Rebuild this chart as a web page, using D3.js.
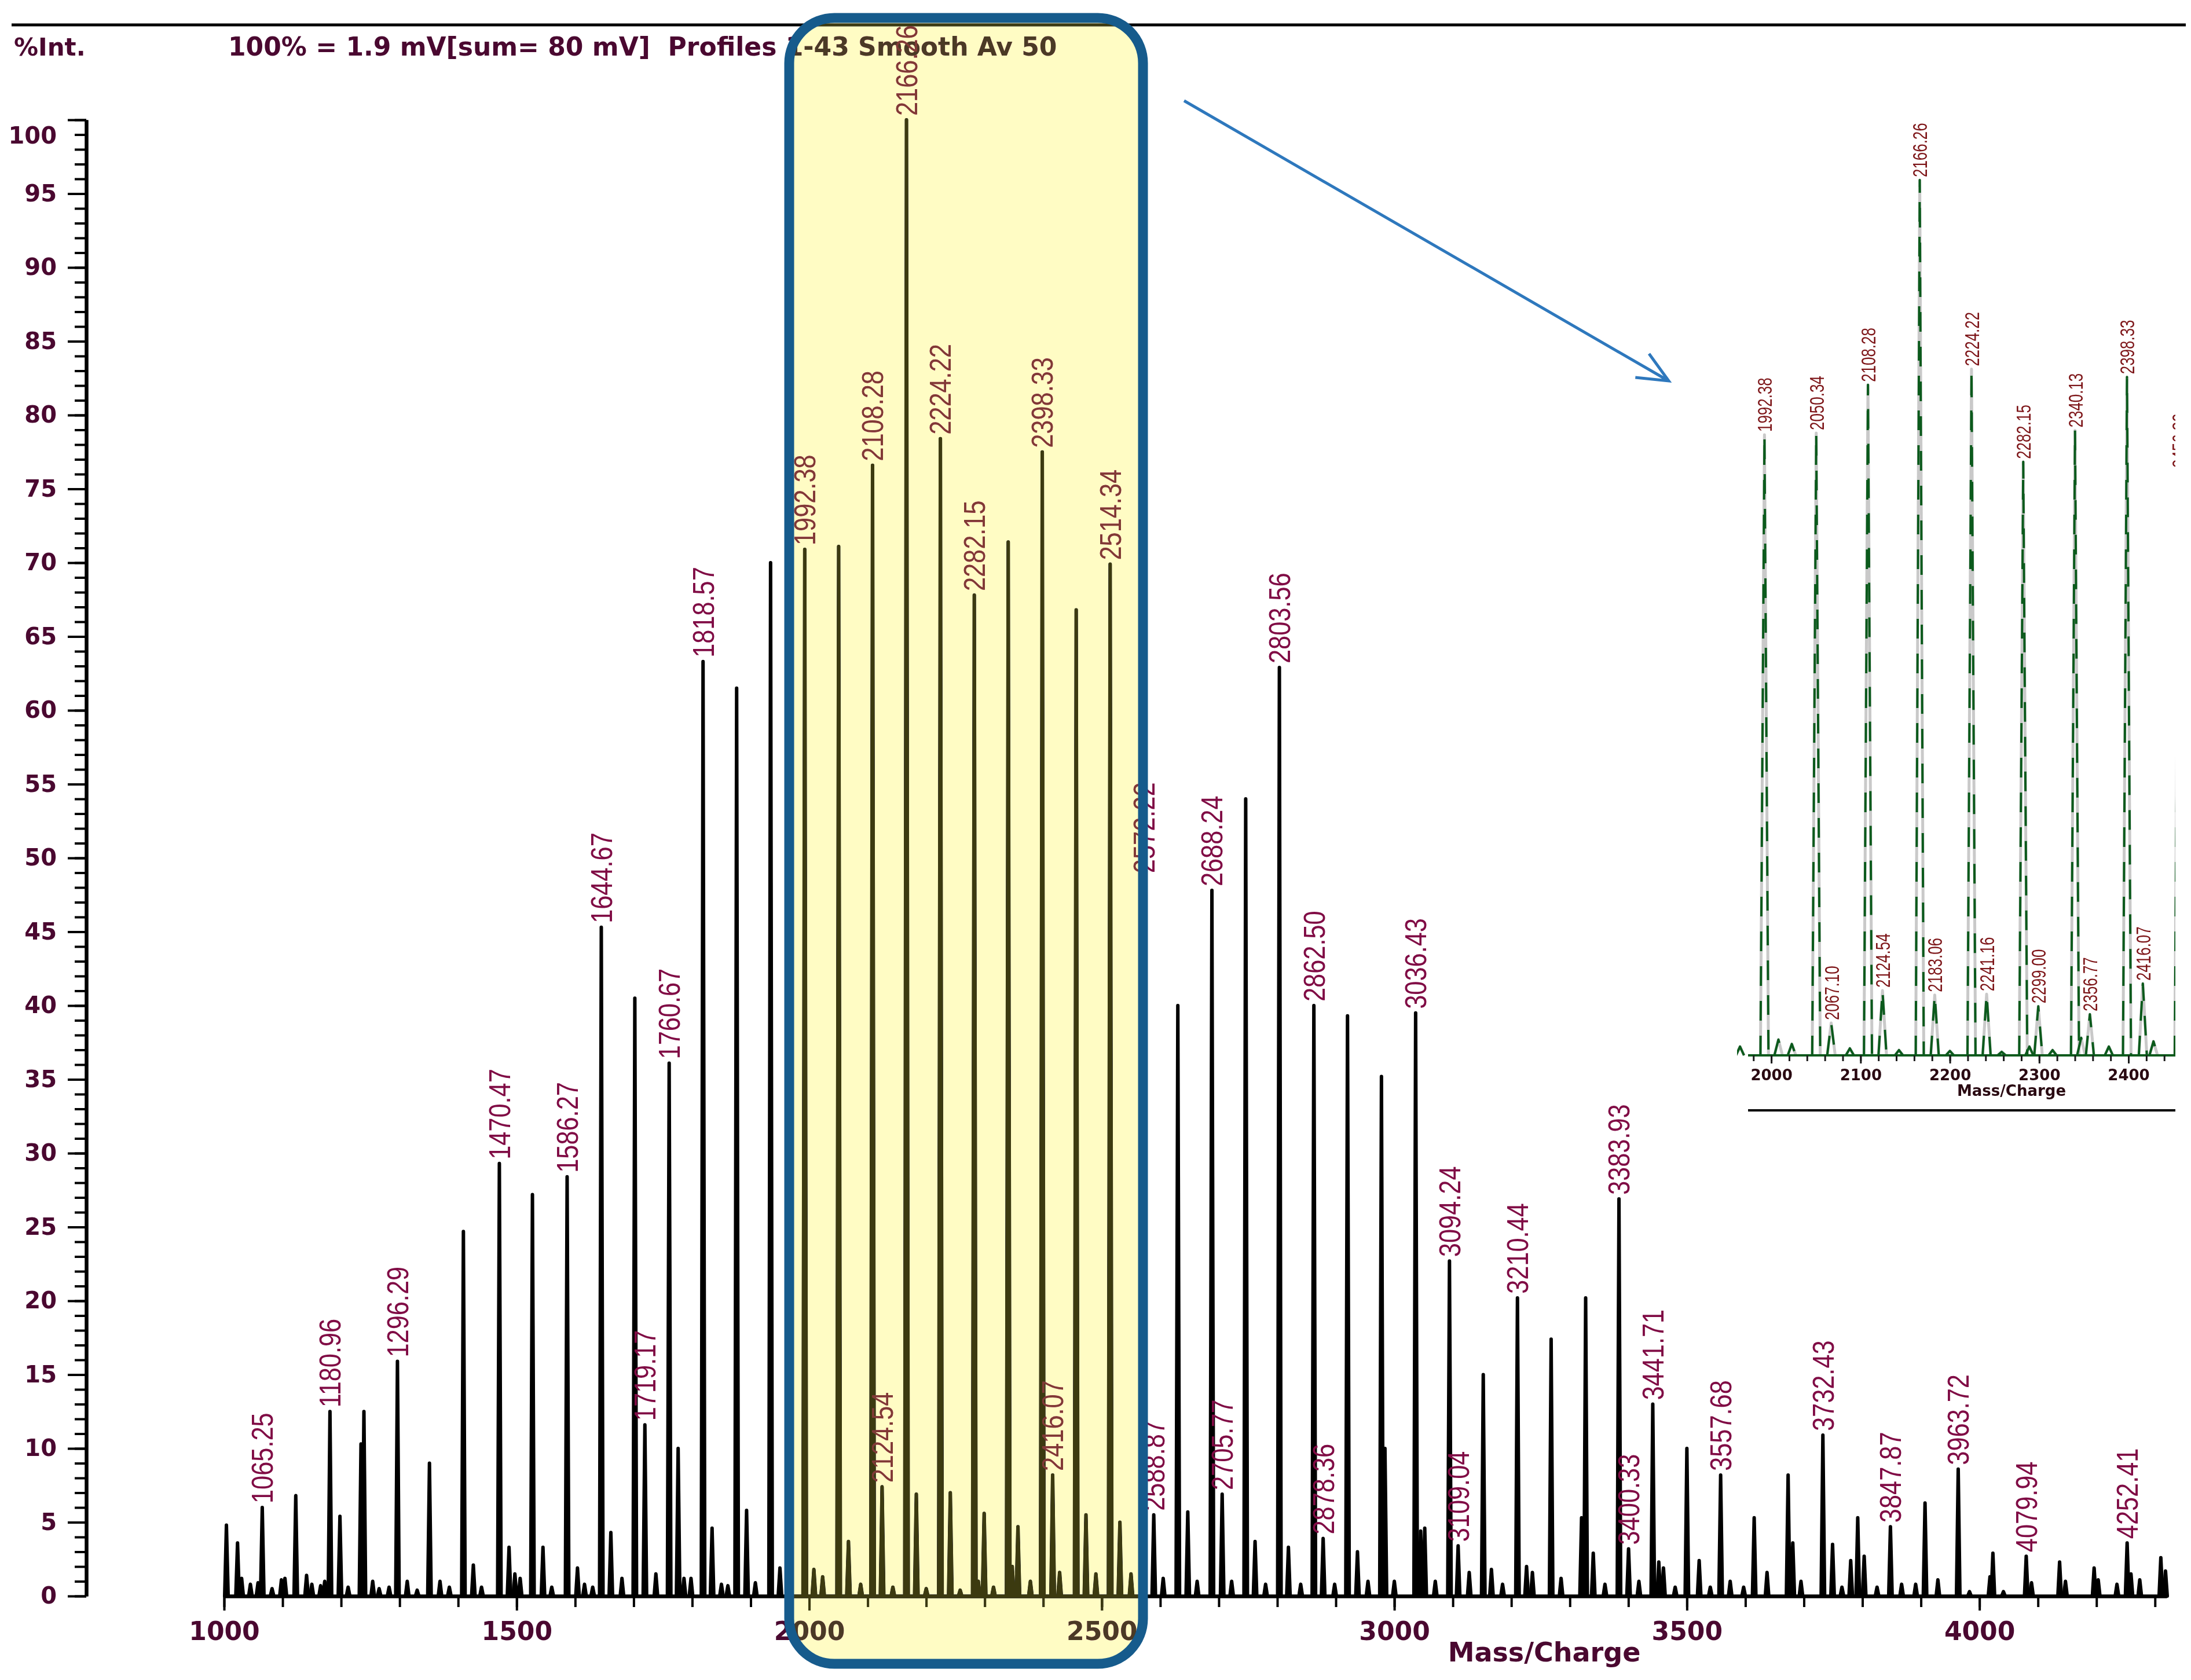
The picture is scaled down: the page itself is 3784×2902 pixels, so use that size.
<!DOCTYPE html>
<html>
<head>
<meta charset="utf-8">
<script src="https://cdnjs.cloudflare.com/ajax/libs/d3/7.8.5/d3.min.js"></script>
<style>
  body { margin: 0; background: #fff; }
  svg { display: block; }
</style>
</head>
<body>
<div id="chart"></div>
<script>
// 1: DATA
const peakMz = [
  1004, 1023, 1030, 1045, 1058, 1065.25, 1082, 1098, 1104, 1122.5, 1141, 1150, 1165, 1172, 1180.96, 1198, 1212,
  1234, 1239, 1254, 1265, 1282, 1296.29, 1313, 1330, 1351, 1369, 1385, 1409, 1426, 1440, 1470.47, 1487, 1497,
  1506, 1527, 1545, 1560, 1586.27, 1604, 1616, 1630, 1644.67, 1661, 1680, 1702, 1719.17, 1738, 1760.67, 1776,
  1786, 1798, 1818.57, 1834, 1850, 1861, 1876, 1893, 1908, 1934, 1950, 1965, 1992.38, 2008, 2023, 2050.34,
  2067.10, 2088, 2108.28, 2124.54, 2143, 2166.26, 2183.06, 2200, 2224.22, 2241.16, 2258, 2282.15, 2289, 2299.00,
  2315, 2340.13, 2347, 2356.77, 2378, 2398.33, 2416.07, 2428, 2456.30, 2473, 2490, 2514.34, 2531, 2550,
  2572.22, 2588.87, 2605, 2630, 2647, 2663, 2688.24, 2705.77, 2722, 2746, 2762, 2780, 2803.56, 2819, 2840,
  2862.50, 2878.36, 2898, 2920, 2937, 2955, 2978, 2984, 3000, 3036.43, 3045, 3052, 3070, 3094.24, 3109.04,
  3128, 3152, 3166, 3185, 3210.44, 3226, 3236, 3268, 3285, 3320, 3327, 3340, 3360, 3383.93, 3400.33, 3418,
  3441.71, 3452, 3460, 3480, 3500, 3521, 3540, 3557.68, 3574, 3597, 3615, 3637, 3673, 3681, 3695, 3732.43,
  3749, 3765, 3780, 3792, 3803, 3825, 3847.87, 3867, 3891, 3907, 3929, 3963.72, 3983, 4018, 4023, 4041,
  4079.94, 4089, 4137, 4147, 4196, 4203, 4235, 4252.41, 4259, 4274, 4310, 4318
];
const peakInt = [
  4.8, 3.6, 1.2, 0.8, 0.9, 6.0, 0.5, 1.1, 1.2, 6.8, 1.4, 0.8, 0.7, 1.0, 12.5, 5.4, 0.6,
  10.3, 12.5, 1.0, 0.5, 0.6, 15.9, 1.0, 0.4, 9.0, 1.0, 0.6, 24.7, 2.1, 0.6, 29.3, 3.3, 1.5,
  1.2, 27.2, 3.3, 0.6, 28.4, 1.9, 0.8, 0.6, 45.3, 4.3, 1.2, 40.5, 11.6, 1.5, 36.1, 10.0,
  1.2, 1.2, 63.3, 4.6, 0.8, 0.7, 61.5, 5.8, 0.9, 70.0, 1.9, 1.0, 70.9, 1.8, 1.3, 71.1,
  3.7, 0.8, 76.6, 7.4, 0.6, 100, 6.9, 0.5, 78.4, 7.0, 0.4, 67.8, 1.0, 5.6,
  0.6, 71.4, 2.0, 4.7, 1.0, 77.5, 8.2, 1.6, 66.8, 5.5, 1.5, 69.9, 5.0, 1.5,
  48.7, 5.5, 1.2, 40.0, 5.7, 1.0, 47.8, 6.9, 1.0, 54.0, 3.7, 0.8, 62.9, 3.3, 0.8,
  40.0, 3.9, 0.8, 39.3, 3.0, 1.0, 35.2, 10.0, 1.0, 39.5, 4.4, 4.6, 1.0, 22.7, 3.4,
  1.6, 15.0, 1.8, 0.8, 20.2, 2.0, 1.6, 17.4, 1.2, 5.3, 20.2, 2.9, 0.8, 26.9, 3.2, 1.0,
  13.0, 2.3, 1.9, 0.6, 10.0, 2.4, 0.6, 8.2, 1.0, 0.6, 5.3, 1.6, 8.2, 3.6, 1.0, 10.9,
  3.5, 0.6, 2.4, 5.3, 2.7, 0.6, 4.7, 0.8, 0.8, 6.3, 1.1, 8.6, 0.3, 1.3, 2.9, 0.3,
  2.7, 0.9, 2.3, 1.0, 1.9, 1.1, 0.8, 3.6, 1.5, 1.1, 2.6, 1.7
];
const mainLabels = [
  "1065.25", "1180.96", "1296.29", "1470.47", "1586.27", "1644.67", "1719.17", "1760.67", "1818.57",
  "1992.38", "2108.28", "2124.54", "2166.26", "2224.22", "2282.15", "2398.33", "2416.07", "2514.34",
  "2572.22", "2588.87", "2688.24", "2705.77", "2803.56", "2862.50", "2878.36", "3036.43", "3094.24",
  "3109.04", "3210.44", "3383.93", "3400.33", "3441.71", "3557.68", "3732.43", "3847.87", "3963.72",
  "4079.94", "4252.41"
];
const insetLabels = [
  "1992.38", "2050.34", "2067.10", "2108.28", "2124.54", "2166.26", "2183.06", "2224.22", "2241.16",
  "2282.15", "2299.00", "2340.13", "2356.77", "2398.33", "2416.07", "2456.30"
];
const yTicks = d3.range(0, 101, 5);
const yMinor = d3.range(0, 101, 1);
const xTicks = [1000, 1500, 2000, 2500, 3000, 3500, 4000];
const xMinor = d3.range(1000, 4301, 100);
const insetTicks = [2000, 2100, 2200, 2300, 2400];
const insetMinor = d3.range(1980, 2451, 20);
const headerLeft = "%Int.";
const headerText = "100% = 1.9 mV[sum= 80 mV]  Profiles 1-43 Smooth Av 50";

// 2: SVG + SCALES
const W = 3784, H = 2902;
const svg = d3.select("#chart").append("svg")
    .attr("width", W)
    .attr("height", H);

const x = d3.scaleLinear().domain([1000, 4320]).range([387, 3742]);
const y = d3.scaleLinear().domain([0, 100]).range([2757, 207]);

const axisColor = "#4a0830";
const labelColor = "#800c45";

// header
svg.append("line")
    .attr("x1", 20).attr("x2", 3775).attr("y1", 43).attr("y2", 43)
    .attr("stroke", "#000").attr("stroke-width", 5);
svg.append("text").attr("x", 24).attr("y", 96).text(headerLeft)
    .attr("font-family", "DejaVu Sans").attr("font-weight", "bold").attr("font-size", 42).attr("fill", axisColor);
svg.append("text").attr("x", 394).attr("y", 96).text(headerText)
    .attr("font-family", "DejaVu Sans").attr("font-weight", "bold").attr("font-size", 44).attr("fill", axisColor)
    .attr("xml:space", "preserve");

// 3: AXES
const yAxisX = 149;
const gy = svg.append("g").attr("transform", `translate(${yAxisX},0)`);
gy.append("g").call(d3.axisLeft(y).tickValues(yMinor).tickSize(20).tickSizeOuter(0).tickFormat(""));
gy.append("g").call(d3.axisLeft(y).tickValues(yTicks).tickSize(32).tickSizeOuter(0).tickPadding(19));
gy.selectAll("line").attr("stroke", "#000").attr("stroke-width", 4);
gy.selectAll(".domain").attr("stroke", "#000").attr("stroke-width", 6);
gy.selectAll("text")
    .attr("font-family", "DejaVu Sans").attr("font-weight", "bold").attr("font-size", 40).attr("fill", axisColor)
    .attr("dy", d => d === 100 ? "1.0em" : "0.32em");

const gx = svg.append("g").attr("transform", `translate(0,${y(0)})`);
gx.append("g").call(d3.axisBottom(x).tickValues(xMinor).tickSize(19).tickSizeOuter(0).tickFormat(""));
gx.append("g").call(d3.axisBottom(x).tickValues(xTicks).tickSize(25).tickSizeOuter(0).tickPadding(20).tickFormat(d3.format("d")));
gx.selectAll("line").attr("stroke", "#000").attr("stroke-width", 4);
gx.selectAll(".domain").attr("stroke", "#000").attr("stroke-width", 6);
gx.selectAll("text")
    .attr("font-family", "DejaVu Sans").attr("font-weight", "bold").attr("font-size", 44).attr("fill", axisColor);

svg.append("text").attr("x", 2667).attr("y", 2870).attr("text-anchor", "middle").text("Mass/Charge")
    .attr("font-family", "DejaVu Sans").attr("font-weight", "bold").attr("font-size", 46).attr("fill", axisColor);

// 4: PEAKS
const peaks = peakMz.map((mz, i) => ({ mz, v: peakInt[i] }));

function peakPath(d, xs, ys, hw, close) {
    return `M${xs(d.mz - hw)},${ys(0)}L${xs(d.mz)},${ys(d.v)}L${xs(d.mz + hw)},${ys(0)}` + (close ? "Z" : "");
}

svg.append("g").selectAll("path").data(peaks).join("path")
    .attr("d", d => peakPath(d, x, y, 3, true))
    .attr("fill", "#000").attr("stroke", "#000").attr("stroke-width", 6)
    .attr("stroke-linejoin", "round");

const mainLab = mainLabels.map(s => ({ s, p: peaks.find(p => p.mz === +s) })).filter(d => d.p);
svg.append("g").selectAll("text").data(mainLab).join("text")
    .attr("transform", d => `translate(${x(d.p.mz)},${y(d.p.v) - 7}) rotate(-90) scale(0.85,1)`)
    .attr("dy", "0.36em")
    .attr("font-family", "Liberation Sans, Arial, sans-serif")
    .attr("font-size", 51)
    .attr("fill", labelColor)
    .text(d => d.s);

// 5: INSET (zoom of 1975-2452)
const ix = d3.scaleLinear().domain([1974, 2452.5]).range([3019, 3757]);
const iy = d3.scaleLinear().domain([0, 100]).range([1823, 311]);
const inset = svg.append("g");
inset.append("clipPath").attr("id", "insetClip")
    .append("rect").attr("x", 3000).attr("y", 0).attr("width", 757).attr("height", 1830);

const insetPeaks = peaks.filter(p => p.mz > 1960 && p.mz < 2470);
const ip = inset.append("g").attr("clip-path", "url(#insetClip)");
ip.selectAll("path.bg").data(insetPeaks).join("path").attr("class", "bg")
    .attr("d", d => peakPath(d, ix, iy, 4.5, false))
    .attr("fill", "none").attr("stroke", "#c9c9c9").attr("stroke-width", 5).attr("stroke-linejoin", "round");
ip.selectAll("path.fg").data(insetPeaks).join("path").attr("class", "fg")
    .attr("d", d => peakPath(d, ix, iy, 4.5, false))
    .attr("fill", "none").attr("stroke", "#0b5a1c").attr("stroke-width", 4)
    .attr("stroke-dasharray", "34,26").attr("stroke-linejoin", "round");

const insetLab = insetLabels.map(s => ({ s, p: peaks.find(p => p.mz === +s) })).filter(d => d.p);
ip.selectAll("text").data(insetLab).join("text")
    .attr("transform", d => `translate(${ix(d.p.mz)},${iy(d.p.v) - 5}) rotate(-90) scale(0.72,1)`)
    .attr("dy", "0.36em")
    .attr("font-family", "Liberation Sans, Arial, sans-serif")
    .attr("font-size", 36)
    .attr("fill", "#7d1518")
    .text(d => d.s);

inset.append("line")
    .attr("x1", ix.range()[0]).attr("x2", ix.range()[1]).attr("y1", iy(0)).attr("y2", iy(0))
    .attr("stroke", "#0b5a1c").attr("stroke-width", 4);

const gi = inset.append("g").attr("transform", `translate(0,${iy(0)})`);
gi.append("g").call(d3.axisBottom(ix).tickValues(insetMinor).tickSize(10).tickSizeOuter(0).tickFormat(""));
gi.append("g").call(d3.axisBottom(ix).tickValues(insetTicks).tickSize(14).tickSizeOuter(0).tickPadding(11).tickFormat(d3.format("d")));
gi.selectAll(".domain").remove();
gi.selectAll("line").attr("stroke", "#1a1a1a").attr("stroke-width", 3);
gi.selectAll("text")
    .attr("font-family", "DejaVu Sans").attr("font-weight", "bold").attr("font-size", 26).attr("fill", "#2a0a12");
inset.append("text").attr("x", 3474).attr("y", 1893).attr("text-anchor", "middle").text("Mass/Charge")
    .attr("font-family", "DejaVu Sans").attr("font-weight", "bold").attr("font-size", 26).attr("fill", "#2a0a12");
inset.append("line")
    .attr("x1", 3019).attr("x2", 3757).attr("y1", 1918).attr("y2", 1918)
    .attr("stroke", "#000").attr("stroke-width", 4);

// 6: HIGHLIGHT BOX + ARROW
const box = { x: 1363, y: 31, w: 611, h: 2843, r: 78 };
svg.append("rect")
    .attr("x", box.x).attr("y", box.y).attr("width", box.w).attr("height", box.h)
    .attr("rx", box.r).attr("fill", "#fffcc4").style("mix-blend-mode", "multiply");
svg.append("rect")
    .attr("x", box.x).attr("y", box.y).attr("width", box.w).attr("height", box.h)
    .attr("rx", box.r).attr("fill", "#3c3a10").style("mix-blend-mode", "lighten");
svg.append("rect")
    .attr("x", box.x).attr("y", box.y).attr("width", box.w).attr("height", box.h)
    .attr("rx", box.r).attr("fill", "none").attr("stroke", "#165b8c").attr("stroke-width", 17);

const a0 = [2045, 174], a1 = [2882, 658];
const ang = Math.atan2(a1[1] - a0[1], a1[0] - a0[0]);
const headLen = 58, headAng = 0.42;
svg.append("path")
    .attr("d", `M${a0[0]},${a0[1]}L${a1[0]},${a1[1]}` +
        `M${a1[0] - headLen * Math.cos(ang - headAng)},${a1[1] - headLen * Math.sin(ang - headAng)}L${a1[0]},${a1[1]}` +
        `L${a1[0] - headLen * Math.cos(ang + headAng)},${a1[1] - headLen * Math.sin(ang + headAng)}`)
    .attr("fill", "none").attr("stroke", "#2e78bd").attr("stroke-width", 5);
</script>
</body>
</html>
